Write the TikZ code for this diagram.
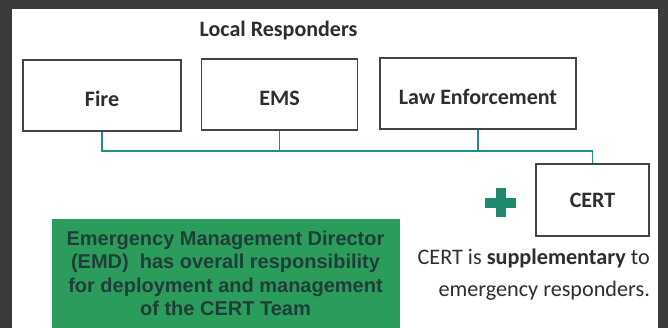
\documentclass[tikz,border=0pt]{standalone}
\usepackage{fontspec}
\setmainfont{Carlito}
\newfontfamily\arialbold{Liberation Sans}[BoldFont={Liberation Sans Bold}]
\definecolor{frame}{HTML}{3A3C3B}
\definecolor{boxline}{HTML}{444444}
\definecolor{linkteal}{HTML}{1F8F8C}
\definecolor{emdgreen}{HTML}{2C9C5C}
\definecolor{emdtext}{HTML}{203E38}
\definecolor{plusgreen}{HTML}{1F8A70}
\definecolor{txt}{HTML}{2E2E2E}
\begin{document}
\begin{tikzpicture}[x=1pt,y=-1pt,
  unitbox/.style={draw=boxline,line width=1.1pt,fill=white,minimum height=71pt,
    inner sep=0pt,text height=23pt,text depth=0pt,
    font=\fontsize{22}{26}\selectfont\bfseries,text=txt},
  link/.style={draw=linkteal,line width=1.6pt}]
  % page frame and white panel
  \fill[frame] (0,0) rectangle (668,328);
  \fill[white] (12,9) rectangle (658,328);
  \useasboundingbox (0,0) rectangle (668,328);

  % heading
  \node[font=\fontsize{22}{26}\selectfont\bfseries,text=txt] (head) at (278.5,31) {Local Responders};

  % responder boxes
  \node[unitbox,minimum width=158pt] (fire) at (102,95.5) {Fire};
  \node[unitbox,minimum width=156pt] (ems) at (279.5,94.5) {EMS};
  \node[unitbox,minimum width=196pt,text height=22pt] (law) at (478,93.5) {Law Enforcement};
  \node[unitbox,minimum width=113pt,minimum height=72pt,text height=15pt] (cert) at (592.5,200) {CERT};

  % bus connecting the responders to CERT
  \coordinate (busL) at (fire.south |- 0,151);
  \draw[link] (fire.south) -- (busL) -- (busL -| cert.north) -- (cert.north);
  \draw[link] (ems.south) -- (ems.south |- busL);
  \draw[link] (law.south) -- (law.south |- busL);

  % plus sign
  \node[fill=plusgreen,minimum width=31pt,minimum height=10pt,inner sep=0pt] (plush) at (500.5,203) {};
  \node[fill=plusgreen,minimum width=10pt,minimum height=29pt,inner sep=0pt] (plusv) at (500.5,203) {};

  % EMD note
  \node[fill=emdgreen,minimum width=348pt,minimum height=109pt,inner sep=0pt,
    align=center,text=emdtext,font=\arialbold\bfseries\fontsize{20}{23.3}\selectfont]
    (emd) at (225.5,273.5) {Emergency Management Director\\(EMD)\ \ has overall responsibility\\for deployment and management\\of the CERT Team};

  % CERT remark
  \node[anchor=north east,align=right,inner sep=0pt,text=txt,
    font=\fontsize{22.2}{32}\selectfont] (note) at (650,249)
    {CERT is \textbf{supplementary} to\\emergency responders.};
\end{tikzpicture}
\end{document}
